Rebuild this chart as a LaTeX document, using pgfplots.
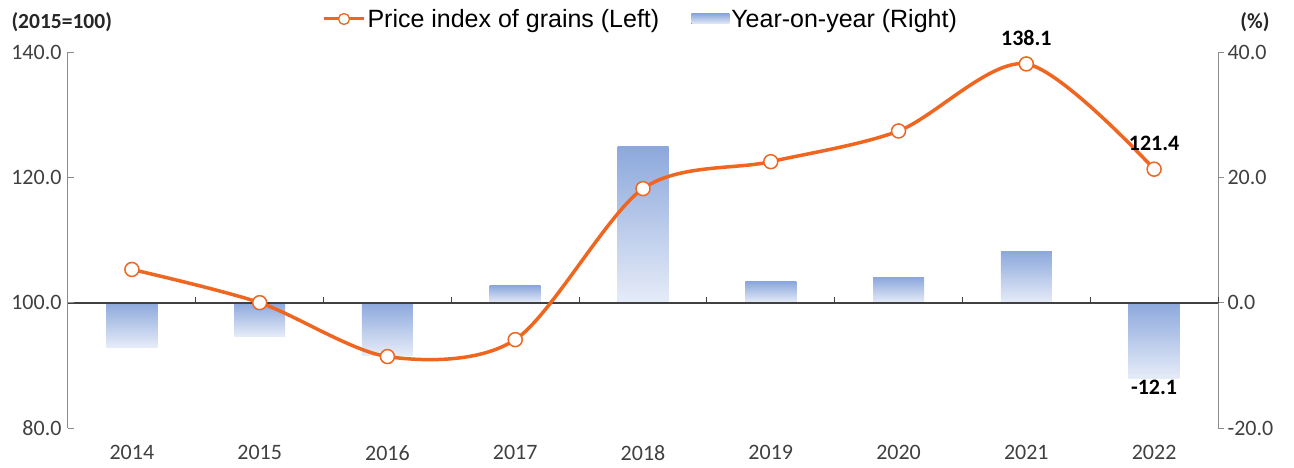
\documentclass[border=0pt]{standalone}
\usepackage{pgfplots}
\pgfplotsset{compat=1.18}
\usepackage{fontspec}
\setmainfont{Carlito}
\newfontfamily\arialf{Liberation Sans}
\definecolor{lineor}{RGB}{238,102,32}
\definecolor{bartop}{RGB}{140,168,220}
\definecolor{barbot}{RGB}{230,236,248}
\definecolor{axgray}{RGB}{140,140,140}
\definecolor{txt}{RGB}{64,64,64}
\pgfplotsset{yoybar/.style={ybar, bar width=51pt, bar shift=0pt, draw=none, top color=bartop, bottom color=barbot}}
\begin{document}
\begin{tikzpicture}
\path[use as bounding box] (-68pt,-39pt) rectangle (1226pt,428pt);
% ---- right axis: year-on-year bars ----
\begin{axis}[
  scale only axis, width=1150pt, height=376pt,
  xmin=-0.5, xmax=8.5, ymin=-20, ymax=40,
  axis y line*=right, axis x line=none,
  ytick={-20,0,20,40}, yticklabels={-20.0,0.0,20.0,40.0},
  ytick align=outside,
  major tick length=6pt,
  y axis line style={draw=axgray, line width=1pt},
  ytick style={draw=axgray, line width=1pt},
  yticklabel style={font=\fontsize{22}{24}\selectfont, text=txt},
  clip=false,
]
\addplot[yoybar] coordinates {(0,-7.1)};
\addplot[yoybar] coordinates {(1,-5.4)};
\addplot[yoybar] coordinates {(2,-8.4)};
\addplot[yoybar] coordinates {(3,2.7)};
\addplot[yoybar] coordinates {(4,25.0)};
\addplot[yoybar] coordinates {(5,3.3)};
\addplot[yoybar] coordinates {(6,4.0)};
\addplot[yoybar] coordinates {(7,8.2)};
\addplot[yoybar] coordinates {(8,-12.1)};
% zero line with category separator ticks
\draw[black!75, line width=1.8pt] (axis cs:-0.5,0) -- (axis cs:8.5,0);
\pgfplotsinvokeforeach{-0.5,0.5,1.5,2.5,3.5,4.5,5.5,6.5,7.5,8.5}{
  \draw[black!75, line width=1pt] (axis cs:#1,0) -- ++(0pt,6pt);
}
\addplot[draw=none, mark=none, nodes near coords, point meta=explicit symbolic,
  every node near coord/.append style={anchor=north, inner sep=0pt, yshift=-1pt,
    font=\fontsize{22}{24}\selectfont\bfseries, text=black}]
  coordinates {(8,-12.1) [-12.1]};
\end{axis}
% ---- left axis: price index line ----
\begin{axis}[
  scale only axis, width=1150pt, height=376pt,
  xmin=-0.5, xmax=8.5, ymin=80, ymax=140,
  axis y line*=left, axis x line*=bottom,
  x axis line style={draw=none},
  xtick={0,...,8}, xticklabels={2014,2015,2016,2017,2018,2019,2020,2021,2022},
  xtick style={draw=none},
  xticklabel style={font=\fontsize{22}{24}\selectfont, text=txt, yshift=-14pt},
  ytick={80,100,120,140}, yticklabels={80.0,100.0,120.0,140.0},
  ytick align=inside,
  major tick length=6pt,
  y axis line style={draw=axgray, line width=1pt},
  ytick style={draw=axgray, line width=1pt},
  yticklabel style={font=\fontsize{22}{24}\selectfont, text=txt, xshift=-3pt},
  clip=false,
  legend columns=2,
  legend style={at={(0.498,1)}, anchor=south, yshift=21pt, draw=none, fill=none,
    font=\arialf\fontsize{25}{27}\selectfont, inner sep=0pt,
    nodes={inner sep=2pt},
    /tikz/every even column/.append style={column sep=30pt}},
  legend cell align=left,
]
\addplot[lineor, line width=3.5pt, smooth, mark=*, mark size=7pt,
  mark options={fill=white, draw=lineor, line width=1.5pt},
  legend image code/.code={
    \draw[lineor, line width=3pt] plot[mark=*, mark size=5.5pt,
      mark options={fill=white, draw=lineor, line width=1.3pt},
      mark repeat=2, mark phase=2] coordinates {(0pt,0pt) (20pt,0pt) (40pt,0pt)};}]
  coordinates {(0,105.3) (1,100.0) (2,91.4) (3,94.1) (4,118.2) (5,122.5) (6,127.4) (7,138.1) (8,121.3)};
\addlegendentry{Price index of grains (Left)}
\addlegendimage{legend image code/.code={
    \fill[top color=bartop, bottom color=barbot, draw=none] (0pt,-5pt) rectangle (38pt,5pt);}}
\addlegendentry{Year-on-year (Right)}
\addplot[draw=none, mark=none, nodes near coords, point meta=explicit symbolic,
  every node near coord/.append style={anchor=center, yshift=26pt,
    font=\fontsize{22}{24}\selectfont\bfseries, text=black}]
  coordinates {(7,138.1) [138.1] (8,121.3) [121.4]};
\end{axis}
\node[anchor=west, font=\fontsize{21.5}{23}\selectfont\bfseries, text=black!85] at (-60pt,406pt) {(2015=100)};
\node[anchor=center, font=\fontsize{21.5}{23}\selectfont\bfseries, text=black!85] at (1187pt,406pt) {(\%)};
\end{tikzpicture}
\end{document}
